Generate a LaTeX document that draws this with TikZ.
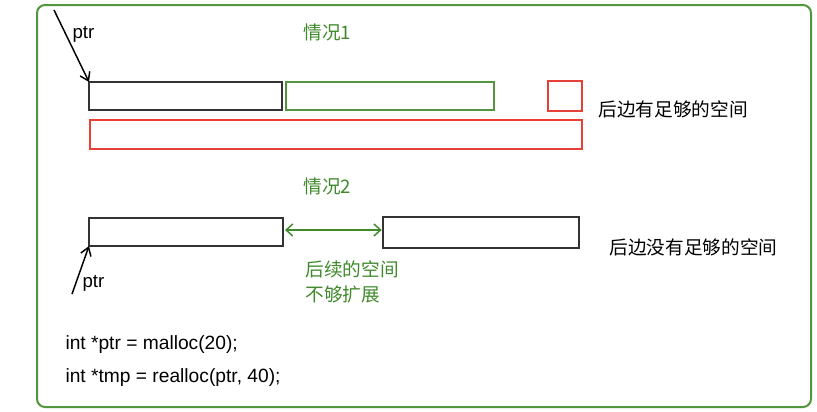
\documentclass[tikz,border=0pt]{standalone}
\usepackage{fontspec}
\setmainfont{Liberation Sans}
\newfontfamily\cjk{Noto Sans CJK SC}
\usetikzlibrary{arrows.meta}

\definecolor{frameGreen}{RGB}{84,150,62}
\definecolor{textGreen}{RGB}{64,138,44}
\definecolor{boxRed}{RGB}{232,64,56}

\tikzset{every picture/.style={line width=0.75pt}}
\tikzset{
  blk/.style={draw=black!80, line width=1.5pt, outer sep=0pt, inner sep=0pt, anchor=north west},
  grn/.style={blk, draw=frameGreen},
  rd/.style={blk, draw=boxRed},
  lbl/.style={anchor=west, inner sep=0.75pt, font=\fontsize{14}{16}\selectfont},
  codelbl/.style={lbl, font=\fontsize{14.4}{16}\selectfont},
  ptrarrow/.style={-{Straight Barb[length=6pt,width=8pt]}, line width=1.1pt},
}

\begin{document}
\begin{tikzpicture}[x=0.75pt,y=0.75pt,yscale=-1,xscale=1]
    \useasboundingbox[fill=white] (0,0) rectangle (817,411);

    %Rounded Rect [id:frame] 
    \draw [frameGreen, line width=1.5pt, rounded corners=6pt] (37,5) rectangle (811,407) ;

    %Shape: Rectangle [id:boxA] 
    \node [blk, minimum width=144.75pt, minimum height=21pt] (boxA) at (89,82) {};
    %Shape: Rectangle [id:boxGreen] 
    \node [grn, minimum width=156pt, minimum height=21pt] (boxGreen) at (286,82) {};
    %Shape: Rectangle [id:boxRedSmall] 
    \node [rd, minimum width=25.5pt, minimum height=22.5pt] (boxRedSmall) at (548,81) {};
    %Shape: Rectangle [id:boxRedLong] 
    \node [rd, minimum width=369pt, minimum height=21.75pt] (boxRedLong) at (90,120) {};

    %Shape: Rectangle [id:boxB] 
    \node [blk, minimum width=145.5pt, minimum height=21pt] (boxB) at (89,218) {};
    %Shape: Rectangle [id:boxC] 
    \node [blk, minimum width=147pt, minimum height=23.25pt] (boxC) at (383,217) {};

    \coordinate (ptrA) at (54,10);
    \coordinate (ptrB) at (72,294);

    %Straight Lines [id:arrowA] 
    \draw [ptrarrow]   (ptrA) -- (boxA.north west) ;
    %Straight Lines [id:arrowB] 
    \draw [ptrarrow]   (ptrB) -- (boxB.south west) ;
    %Straight Lines [id:gap] 
    \draw [textGreen, line width=1.1pt, {Straight Barb[length=5pt,width=9pt]}-{Straight Barb[length=5pt,width=9pt]}]   ([xshift=1.5pt,yshift=-1.5pt]boxB.east) -- ([xshift=-1pt,yshift=-1.5pt]boxB.east -| boxC.west) ;

    % Text Node
    \node [lbl] (ptrTextA) at (71,34) {ptr};
    % Text Node
    \node [lbl, textGreen] (case1) at (302,32) {\cjk 情况1};
    % Text Node
    \node [lbl] (note1) at (597,109) {\cjk 后边有足够的空间};
    % Text Node
    \node [lbl, textGreen] (case2) at (302,186) {\cjk 情况2};
    % Text Node
    \node [lbl, textGreen] (gapText1) at (304,269) {\cjk 后续的空间};
    % Text Node
    \node [lbl, textGreen] (gapText2) at (304,294) {\cjk 不够扩展};
    % Text Node
    \node [lbl] (note2) at (608,247) {\cjk 后边没有足够的空间};
    % Text Node
    \node [lbl] (ptrTextB) at (81,283) {ptr};
    % Text Node
    \node [codelbl] (code1) at (64,345) {int *ptr = malloc(20);};
    % Text Node
    \node [codelbl] (code2) at (64,378) {int *tmp = realloc(ptr, 40);};

  \end{tikzpicture}
\end{document}
